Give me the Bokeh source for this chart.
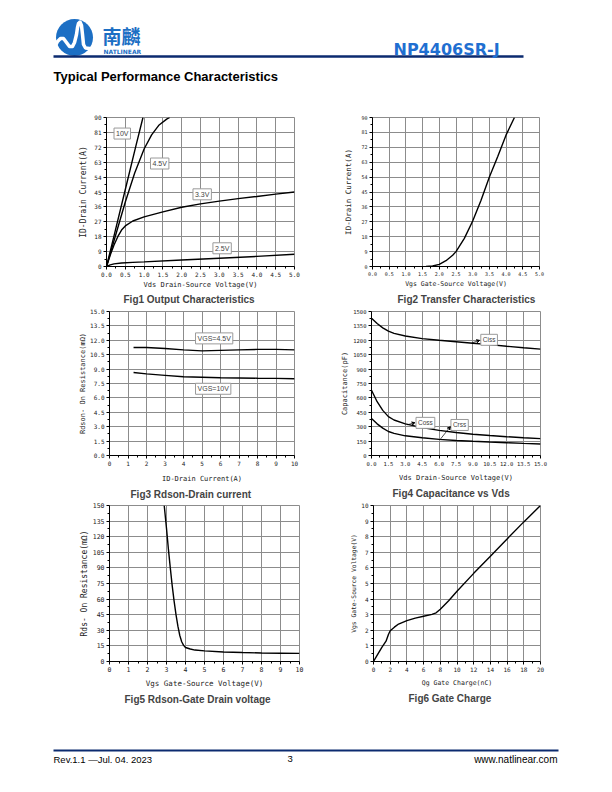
from bokeh.plotting import figure
from bokeh.layouts import column, row
from bokeh.models import Range1d, FixedTicker, NumeralTickFormatter, Label, Arrow, VeeHead
from bokeh.embed import file_html
from bokeh.resources import INLINE
from bokeh.core.properties import value

# ---------------- data ----------------
# Fig1 output characteristics (Vds, Id) per Vgs
fig1_10v_x = [0.0, 0.2, 0.5, 0.8, 0.97]
fig1_10v_y = [0.0, 18.5, 46.5, 74.5, 90.0]
fig1_45v_x = [0.0, 0.25, 0.5, 0.75, 1.0, 1.2, 1.4, 1.6, 1.68]
fig1_45v_y = [0.0, 19.5, 39.0, 56.5, 71.0, 79.5, 85.5, 89.0, 90.0]
fig1_33v_x = [0.0, 0.1, 0.2, 0.3, 0.4, 0.5, 0.7, 1.0, 1.5, 2.0, 2.5, 3.0, 3.5, 4.0, 4.5, 5.0]
fig1_33v_y = [0.0, 7.0, 13.0, 18.0, 22.0, 24.5, 27.5, 30.0, 33.0, 35.8, 37.8, 39.5, 41.0, 42.3, 43.7, 45.0]
fig1_25v_x = [0.0, 0.1, 0.2, 0.4, 0.7, 1.0, 2.0, 3.0, 4.0, 5.0]
fig1_25v_y = [0.0, 1.0, 1.6, 2.1, 2.5, 2.8, 3.9, 5.0, 6.1, 7.4]
fig1_labels = ["10V", "4.5V", "3.3V", "2.5V"]

# Fig2 transfer characteristics
fig2_vgs = [1.6, 1.8, 2.0, 2.2, 2.4, 2.5, 2.75, 3.0, 3.25, 3.5, 3.75, 4.0, 4.25]
fig2_id = [0.0, 0.3, 1.3, 3.5, 6.8, 9.0, 17.0, 27.5, 40.0, 54.0, 66.5, 79.5, 90.0]

# Fig3 Rdson vs drain current
fig3_id = [1.3, 2.0, 3.0, 4.0, 5.0, 6.0, 7.0, 8.0, 9.0, 10.0]
fig3_r45 = [11.25, 11.25, 11.15, 11.0, 10.9, 10.95, 11.0, 11.05, 11.05, 11.0]
fig3_r10 = [8.65, 8.5, 8.35, 8.2, 8.15, 8.1, 8.08, 8.05, 8.03, 8.0]

# Fig4 capacitance vs Vds
fig4_vds = [0.0, 0.5, 1.0, 1.5, 2.0, 3.0, 4.5, 6.0, 7.5, 9.0, 10.5, 12.0, 13.5, 15.0]
fig4_ciss = [1430, 1375, 1330, 1295, 1272, 1245, 1218, 1200, 1185, 1170, 1155, 1138, 1122, 1108]
fig4_coss = [680, 560, 470, 405, 370, 330, 290, 262, 240, 222, 208, 196, 185, 176]
fig4_crss = [385, 330, 285, 250, 230, 205, 185, 168, 157, 148, 140, 133, 126, 120]

# Fig5 Rdson vs Vgs
fig5_vgs = [2.88, 3.0, 3.1, 3.2, 3.3, 3.4, 3.5, 3.6, 3.7, 3.8, 3.9, 4.0, 4.25, 4.5, 5.0, 6.0, 7.0, 8.0, 9.0, 10.0]
fig5_rds = [150, 128, 108, 90, 73, 58, 45, 34, 25, 19, 15.5, 13.5, 12, 11, 10.2, 9.2, 8.6, 8.2, 8.0, 7.8]

# Fig6 gate charge
fig6_qg = [0.0, 0.5, 1.0, 1.5, 1.8, 2.0, 2.5, 3.0, 4.0, 5.0, 6.0, 7.0, 7.5, 8.0, 9.0, 10.0, 12.0, 14.0, 16.0, 18.0, 20.0]
fig6_vgs = [0.0, 0.45, 0.9, 1.3, 1.75, 1.97, 2.2, 2.4, 2.62, 2.78, 2.9, 3.02, 3.12, 3.35, 3.9, 4.5, 5.65, 6.75, 7.85, 8.95, 10.0]

# ticks
fig1_xticks = [0.0, 0.5, 1.0, 1.5, 2.0, 2.5, 3.0, 3.5, 4.0, 4.5, 5.0]
fig1_yticks = [0, 9, 18, 27, 36, 45, 54, 63, 72, 81, 90]
fig3_xticks = [0, 1, 2, 3, 4, 5, 6, 7, 8, 9, 10]
fig3_yticks = [0.0, 1.5, 3.0, 4.5, 6.0, 7.5, 9.0, 10.5, 12.0, 13.5, 15.0]
fig4_xticks = [0.0, 1.5, 3.0, 4.5, 6.0, 7.5, 9.0, 10.5, 12.0, 13.5, 15.0]
fig4_yticks = [0, 150, 300, 450, 600, 750, 900, 1050, 1200, 1350, 1500]
fig5_yticks = [0, 15, 30, 45, 60, 75, 90, 105, 120, 135, 150]
fig6_xticks = [0, 2, 4, 6, 8, 10, 12, 14, 16, 18, 20]
fig6_yticks = [0, 1, 2, 3, 4, 5, 6, 7, 8, 9, 10]

MONO = "DejaVu Sans Mono"
ARIAL = "Liberation Sans"
GRID = "#8c8c8c"


def mids(t):
    return [(a + b) / 2 for a, b in zip(t[:-1], t[1:])]


def chart(w, h, bl, br, bt, bb, xr, yr, xt, yt, xf, yf, xlabel, ylabel, caption,
          tick_fs="6px", xl_fs="7px", yl_fs="8px", xl_so=1, yl_so=6, t_so=3, t_off=0):
    p = figure(width=w, height=h, x_range=Range1d(*xr), y_range=Range1d(*yr),
               output_backend="svg", toolbar_location=None,
               min_border_left=bl, min_border_right=br, min_border_top=bt, min_border_bottom=bb,
               title=caption, title_location="below")
    xtk = FixedTicker(ticks=xt, minor_ticks=mids(xt))
    ytk = FixedTicker(ticks=yt, minor_ticks=mids(yt))
    p.xaxis.ticker = xtk
    p.yaxis.ticker = ytk
    p.xgrid.ticker = FixedTicker(ticks=xt)
    p.ygrid.ticker = FixedTicker(ticks=yt)
    p.xaxis.formatter = NumeralTickFormatter(format=xf)
    p.yaxis.formatter = NumeralTickFormatter(format=yf)
    p.grid.grid_line_color = GRID
    p.grid.grid_line_width = 1
    p.outline_line_color = GRID
    for ax in (p.xaxis, p.yaxis):
        ax.axis_line_color = "black"
        ax.major_tick_in = 0
        ax.major_tick_out = 3
        ax.minor_tick_in = 0
        ax.minor_tick_out = 2
        ax.major_tick_line_color = "black"
        ax.minor_tick_line_color = "black"
        ax.major_label_text_font = MONO
        ax.major_label_text_font_size = tick_fs
        ax.major_label_text_color = "#222222"
        ax.major_label_standoff = 2
        ax.axis_label_text_font = MONO
        ax.axis_label_text_font_style = "normal"
        ax.axis_label_text_color = "#222222"
    p.xaxis.axis_label = xlabel
    p.yaxis.axis_label = ylabel
    p.xaxis.axis_label_text_font_size = xl_fs
    p.yaxis.axis_label_text_font_size = yl_fs
    p.xaxis.axis_label_standoff = xl_so
    p.yaxis.axis_label_standoff = yl_so
    p.title.text_font = ARIAL
    p.title.text_font_size = "10px"
    p.title.text_font_style = "bold"
    p.title.align = "left"
    p.title.standoff = t_so
    p.title.offset = t_off
    return p


def box_label(p, x, y, text, fs="7px"):
    p.add_layout(Label(x=x, y=y, text=text, text_font=ARIAL, text_font_size=fs,
                       text_baseline="middle", border_line_color="#9a9a9a",
                       background_fill_color="white", padding=2))


LW = 1.4

# ---------------- header ----------------
hdr = figure(width=604, height=92, x_range=Range1d(0, 604), y_range=Range1d(92, 0),
             output_backend="svg", toolbar_location=None, min_border=0)
hdr.axis.visible = False
hdr.grid.visible = False
hdr.outline_line_color = None
hdr.circle(x=[74], y=[37], radius=18.5, fill_color="#1c6fc4", line_color=None)
hdr.line(x=[55, 57, 60, 63, 66, 69, 72, 74, 76, 77, 78, 79.5, 81, 82, 83, 85, 89, 94],
         y=[45, 41, 38, 38, 42, 46, 46, 42, 34, 27, 23, 21.5, 25, 34, 44, 47.5, 48, 48],
         line_color="white", line_width=3.5, line_join="round", line_cap="round")
hdr.text(x=[102], y=[35], text=["南麟"], text_font=value("Noto Sans CJK SC"),
         text_font_size="19px", text_font_style="bold", text_color="#1c6fc4",
         text_baseline="middle")
hdr.text(x=[103], y=[51], text=["NATLINEAR"], text_font=value("DejaVu Sans"),
         text_font_size="6px", text_font_style="bold", text_color="#1c6fc4",
         text_baseline="middle")
hdr.line(x=[53, 523], y=[56, 56], line_color="#0b2a6f", line_width=2.5)
hdr.text(x=[393], y=[48.5], text=["NP4406SR-J"], text_font=value("DejaVu Sans"),
         text_font_size="16px", text_font_style="bold", text_color="#1f6fd1",
         text_baseline="alphabetic")
hdr.text(x=[53], y=[76], text=["Typical Performance Characteristics"], text_font=value(ARIAL),
         text_font_size="13px", text_font_style="bold", text_color="black",
         text_baseline="alphabetic")

# ---------------- Fig1 ----------------
f1 = chart(320, 214, 106, 26, 25, 40, (0, 5), (0, 90), fig1_xticks, fig1_yticks, "0.0", "0",
           "Vds Drain-Source Voltage(V)", "ID-Drain Current(A)", "Fig1 Output Characteristics",
           yl_so=3, t_so=0, t_off=17)
f1.line(fig1_10v_x, fig1_10v_y, line_color="black", line_width=LW)
f1.line(fig1_45v_x, fig1_45v_y, line_color="black", line_width=LW)
f1.line(fig1_33v_x, fig1_33v_y, line_color="black", line_width=LW)
f1.line(fig1_25v_x, fig1_25v_y, line_color="black", line_width=LW)
box_label(f1, 0.2, 80.3, fig1_labels[0])
box_label(f1, 1.17, 62.2, fig1_labels[1])
box_label(f1, 2.3, 43.6, fig1_labels[2])
box_label(f1, 2.83, 11.0, fig1_labels[3])

# ---------------- Fig2 ----------------
f2 = chart(284, 214, 52, 65, 25, 40, (0, 5), (0, 90), fig1_xticks, fig1_yticks, "0.0", "0",
           "Vgs Gate-Source Voltage(V)", "ID-Drain Current(A)", "Fig2 Transfer Characteristics",
           tick_fs="5px", xl_fs="6.5px", yl_fs="7.5px", yl_so=5, t_so=3, t_off=25)
f2.line(fig2_vgs, fig2_id, line_color="black", line_width=LW)

# ---------------- Fig3 ----------------
f3 = chart(320, 194, 109, 26, 5, 45, (0, 10), (0, 15), fig3_xticks, fig3_yticks, "0", "0.0",
           "ID-Drain Current(A)", "Rdson- On Resistance(mΩ)", "Fig3 Rdson-Drain current",
           xl_fs="7px", yl_fs="7px", yl_so=0, xl_so=6, t_so=2, t_off=21)
f3.line(fig3_id, fig3_r45, line_color="black", line_width=LW)
f3.line(fig3_id, fig3_r10, line_color="black", line_width=LW)
box_label(f3, 4.65, 12.2, "VGS=4.5V")
box_label(f3, 4.65, 6.95, "VGS=10V")

# ---------------- Fig4 ----------------
f4 = chart(284, 194, 51, 64, 5, 45, (0, 15), (0, 1500), fig4_xticks, fig4_yticks, "0.0", "0",
           "Vds Drain-Source Voltage(V)", "Capacitance(pF)", "Fig4 Capacitance vs Vds",
           tick_fs="5.5px", xl_fs="7px", yl_fs="7px", yl_so=1, xl_so=5, t_so=3, t_off=21)
f4.line(fig4_vds, fig4_ciss, line_color="black", line_width=LW)
f4.line(fig4_vds, fig4_coss, line_color="black", line_width=LW)
f4.line(fig4_vds, fig4_crss, line_color="black", line_width=LW)
box_label(f4, 9.7, 1205, "Ciss", fs="6.5px")
box_label(f4, 3.95, 340, "Coss", fs="6.5px")
box_label(f4, 7.05, 318, "Crss", fs="6.5px")
for xs, ys, xe, ye in [(8.9, 1172, 9.6, 1200), (3.2, 320, 3.85, 342), (6.1, 168, 7.0, 300)]:
    f4.add_layout(Arrow(end=VeeHead(size=3, fill_color="black", line_color="black"),
                        x_start=xs, y_start=ys, x_end=xe, y_end=ye, line_width=0.7))

# ---------------- Fig5 ----------------
f5 = chart(320, 242, 109, 21, 4, 79, (0, 10), (0, 150), fig3_xticks, fig5_yticks, "0", "0",
           "Vgs Gate-Source Voltage(V)", "Rds- On Resistance(mΩ)", "Fig5  Rdson-Gate Drain voltage",
           tick_fs="6.5px", xl_fs="7.5px", yl_fs="8px", yl_so=1, xl_so=4, t_so=2, t_off=15)
f5.line(fig5_vgs, fig5_rds, line_color="black", line_width=LW)

# ---------------- Fig6 ----------------
f6 = chart(284, 242, 53, 64, 5, 81, (0, 20), (0, 10), fig6_xticks, fig6_yticks, "0", "0",
           "Qg Gate Charge(nC)", "Vgs Gate-Source Voltage(V)", "Fig6 Gate Charge",
           tick_fs="6px", xl_fs="6.5px", yl_fs="6.3px", yl_so=1, xl_so=4, t_so=3, t_off=35)
f6.line(fig6_qg, fig6_vgs, line_color="black", line_width=LW)

# ---------------- footer ----------------
ftr = figure(width=604, height=42, x_range=Range1d(0, 604), y_range=Range1d(784, 742),
             output_backend="svg", toolbar_location=None, min_border=0)
ftr.axis.visible = False
ftr.grid.visible = False
ftr.outline_line_color = None
ftr.line(x=[53, 558], y=[750, 750], line_color="#0b2a6f", line_width=2)
ftr.text(x=[53], y=[758.5], text=["Rev.1.1 \u2014Jul. 04. 2023"], text_font=value(ARIAL),
         text_font_size="9.5px", text_baseline="alphabetic")
ftr.text(x=[287], y=[758.5], text=["3"], text_font=value(ARIAL),
         text_font_size="9.5px", text_baseline="alphabetic")
ftr.text(x=[557], y=[758.5], text=["www.natlinear.com"], text_font=value(ARIAL),
         text_font_size="10px", text_baseline="alphabetic", text_align="right")

layout = column(hdr, row(f1, f2), row(f3, f4), row(f5, f6), ftr)
open("out.html", "w").write(file_html(layout, INLINE))
